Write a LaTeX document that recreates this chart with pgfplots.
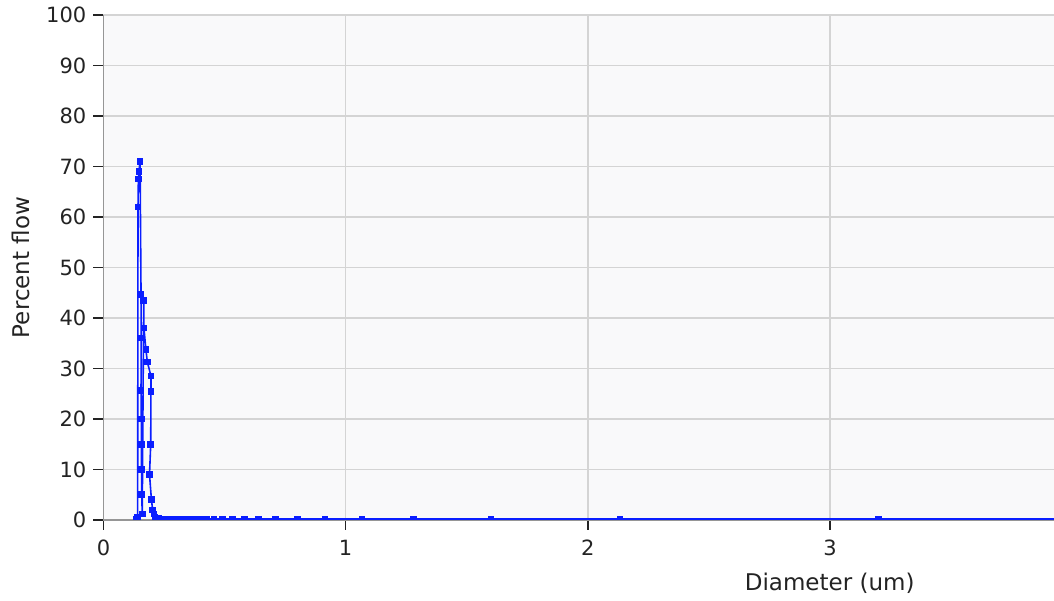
\documentclass[border=0pt]{standalone}
\usepackage{fontspec}
\setmainfont{DejaVu Sans}
\usepackage{pgfplots}
\usepackage{pgfplotstable}
\pgfplotsset{compat=1.18}
\definecolor{lineblue}{RGB}{10,30,255}
\definecolor{gridgray}{RGB}{212,212,212}
\definecolor{bggray}{RGB}{249,249,250}
\definecolor{axgray}{RGB}{150,150,150}
\definecolor{tickdark}{RGB}{35,35,35}
\pgfplotstableread{
x y
0.134 0.2
0.141 0.5
0.1425 62
0.144 67.5
0.146 69
0.151 71
0.155 44.7
0.1555 36
0.155 25.7
0.156 20
0.157 15
0.157 10
0.158 5
0.160 1.2
0.166 43.5
0.167 38
0.175 33.8
0.181 31.3
0.196 28.5
0.196 25.5
0.195 15
0.190 9
0.198 4
0.203 2
0.208 1.2
0.213 0.6
0.220 0.4
0.229 0.3
0.237 0.2
0.246 0.2
0.256 0.2
0.267 0.2
0.278 0.2
0.291 0.2
0.305 0.2
0.320 0.2
0.337 0.2
0.356 0.2
0.376 0.2
0.400 0.2
0.427 0.2
0.457 0.2
0.492 0.2
0.533 0.2
0.582 0.2
0.640 0.2
0.711 0.2
0.800 0.2
0.914 0.2
1.067 0.2
1.280 0.2
1.600 0.2
2.133 0.2
3.200 0.2
6.400 0.2
}\flowdata
\begin{document}
\fontsize{21}{25}\selectfont
\begin{tikzpicture}
\begin{axis}[
  scale only axis, width=950.5pt, height=505pt,
  xmin=0, xmax=3.925, ymin=0, ymax=100,
  axis background/.style={fill=bggray},
  axis x line=bottom, axis y line=left,
  axis line style={-, axgray, line width=1.2pt},
  xtick={0,1,2,3}, ytick={0,10,...,100},
  grid=major, major grid style={gridgray, line width=1.6pt},
  tick align=outside, major tick length=10pt,
  tick style={tickdark, line width=1.4pt},
  /pgf/number format/assume math mode=true,
  ticklabel style={font=\fontsize{21}{25}\selectfont, text=tickdark},
  xticklabel style={yshift=-3pt},
  label style={font=\fontsize{23}{27}\selectfont, text=tickdark},
  xlabel={Diameter (um)}, ylabel={Percent flow},
  xlabel style={at={(rel axis cs:0.764,0)}, anchor=center, yshift=-63pt},
  ylabel style={at={(rel axis cs:0,0.5)}, anchor=center, rotate=0, yshift=83pt},
  clip=true, clip marker paths=true,
]
\addplot[color=lineblue, line width=1.6pt, mark=square*, mark size=2.5pt,
  mark options={solid, fill=lineblue, draw=lineblue}] table[x=x, y=y] {\flowdata};
\coordinate (sw) at (rel axis cs:0,0);
\coordinate (ne) at (rel axis cs:1,1);
\end{axis}
\pgfresetboundingbox
\path ([shift={(-103.5pt,-81pt)}]sw) rectangle ([shift={(0pt,15pt)}]ne);
\end{tikzpicture}
\end{document}
